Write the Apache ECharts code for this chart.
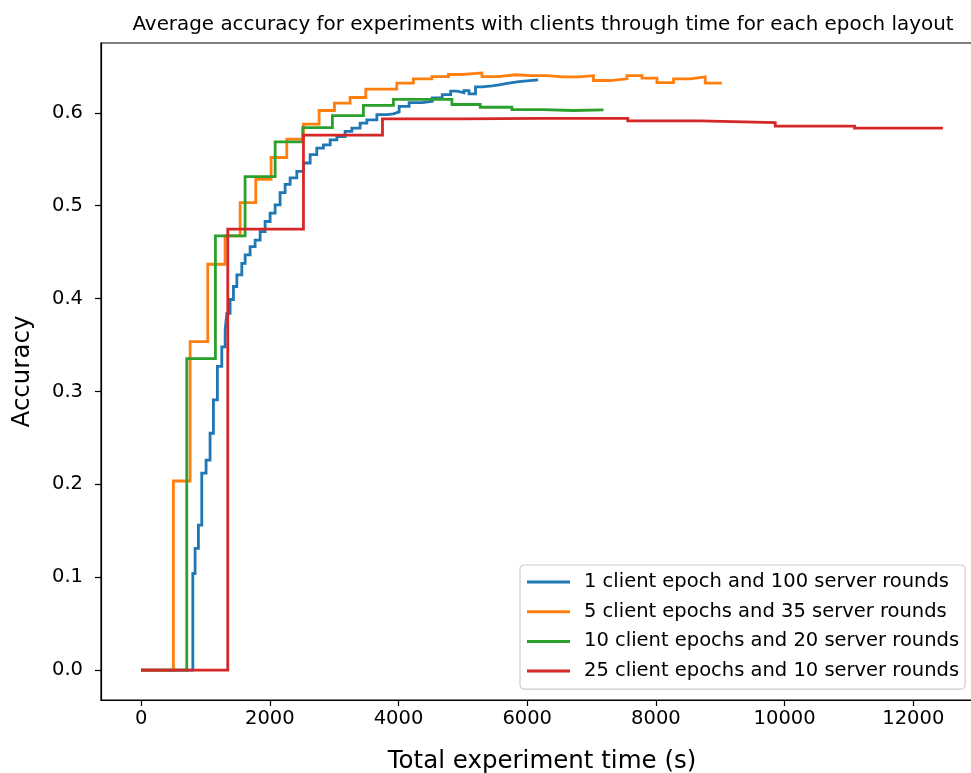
<!DOCTYPE html>
<html>
<head>
<meta charset="utf-8">
<script src="https://cdn.jsdelivr.net/npm/echarts@6/dist/echarts.min.js"></script>
<style>html,body{margin:0;padding:0;background:#fff}#c{width:971px;height:773px}</style>
</head>
<body>
<div id="c"></div>
<script>
const seriesNames = [
  '1 client epoch and 100 server rounds',
  '5 client epochs and 35 server rounds',
  '10 client epochs and 20 server rounds',
  '25 client epochs and 10 server rounds'
];
const xTicks = [0, 2000, 4000, 6000, 8000, 10000, 12000];
const yTicks = [0.0, 0.1, 0.2, 0.3, 0.4, 0.5, 0.6];

const blueT = [0, 804, 839, 891, 943, 1010, 1072, 1124, 1186, 1254, 1306, 1332, 1383, 1435, 1488, 1565, 1617, 1694, 1772, 1850, 1927, 2005, 2083, 2160, 2238, 2316, 2420, 2523, 2627, 2730, 2834, 2938, 3042, 3170, 3275, 3404, 3508, 3664, 3818, 3920, 4010, 4165, 4370, 4525, 4680, 4810, 4913, 5017, 5095, 5197, 5300, 5455, 5560, 5715, 5870, 6170];
const blueV = [0, 0.104, 0.131, 0.156, 0.212, 0.226, 0.255, 0.291, 0.327, 0.348, 0.366, 0.384, 0.399, 0.413, 0.4255, 0.438, 0.447, 0.456, 0.463, 0.472, 0.483, 0.492, 0.501, 0.514, 0.523, 0.530, 0.537, 0.546, 0.555, 0.562, 0.5655, 0.571, 0.5745, 0.580, 0.5835, 0.589, 0.5925, 0.598, 0.599, 0.601, 0.607, 0.611, 0.6125, 0.616, 0.6197, 0.6233, 0.6216, 0.624, 0.6205, 0.628, 0.629, 0.630, 0.632, 0.6337, 0.6355, 0.6355];

const orangeT = [0, 502, 762, 1036, 1305, 1539, 1782, 2020, 2264, 2523, 2766, 3005, 3248, 3492, 3740, 3973, 4232, 4518, 4776, 4990, 5296, 5560, 5813, 6060, 6306, 6550, 6797, 7030, 7290, 7550, 7783, 8016, 8274, 8533, 8767, 9026];
const orangeV = [0, 0.2036, 0.3537, 0.437, 0.4675, 0.5034, 0.5285, 0.5519, 0.5717, 0.5878, 0.6025, 0.6104, 0.6165, 0.6255, 0.6255, 0.632, 0.6366, 0.639, 0.6413, 0.643, 0.639, 0.641, 0.640, 0.640, 0.6387, 0.6387, 0.640, 0.6348, 0.6366, 0.640, 0.6373, 0.6326, 0.6366, 0.6387, 0.632, 0.632];

const greenT = [0, 710, 1155, 1616, 2083, 2512, 2973, 3455, 3921, 4380, 4830, 5270, 5762, 6237, 6719, 7186];
const greenV = [0, 0.3354, 0.4675, 0.5314, 0.5688, 0.584, 0.597, 0.608, 0.6145, 0.6145, 0.609, 0.606, 0.6035, 0.6025, 0.6032, 0.6032];

const redT = [0, 1347, 2523, 3751, 4980, 6200, 7563, 8688, 9854, 11087, 12460];
const redV = [0, 0.4747, 0.576, 0.5935, 0.594, 0.594, 0.5914, 0.5896, 0.5857, 0.5835, 0.5835];

const colors = ['#1f77b4', '#ff7f0e', '#2ca02c', '#d62728'];
const allT = [blueT, orangeT, greenT, redT];
const allV = [blueV, orangeV, greenV, redV];

const FONT = 'DejaVu Sans';
const chart = echarts.init(document.getElementById('c'), null, {renderer: 'canvas'});
chart.setOption({
  animation: false,
  backgroundColor: '#fff',
  textStyle: {fontFamily: FONT, color: '#000'},
  title: {
    text: 'Average accuracy for experiments with clients through time for each epoch layout',
    left: 538, top: 10, textAlign: 'center',
    textStyle: {fontFamily: FONT, fontSize: 19.9, fontWeight: 'normal', color: '#000'}
  },
  grid: {left: 101, top: 43, width: 882, height: 657, outerBoundsMode: 'none', containLabel: false,
    show: true, borderColor: '#000', borderWidth: 1.2, backgroundColor: 'transparent'},
  legend: {
    orient: 'vertical', left: 520, top: 565,
    icon: 'rect', itemWidth: 43, itemHeight: 3, itemGap: 9.7,
    padding: [7, 6, 8, 7],
    borderColor: '#cccccc', borderWidth: 1.2, borderRadius: 4,
    backgroundColor: 'rgba(255,255,255,0.8)',
    textStyle: {fontFamily: FONT, fontSize: 19.5, lineHeight: 20, color: '#000', padding: [0, 0, 0, 9]},
    data: seriesNames
  },
  xAxis: {
    type: 'value', min: -623, max: 13083,
    name: 'Total experiment time (s)', nameLocation: 'middle', nameGap: 49,
    nameTextStyle: {fontFamily: FONT, fontSize: 24.5, color: '#000'},
    axisLine: {show: true, onZero: false, lineStyle: {color: '#000', width: 1.2}},
    axisTick: {show: true, length: 6, customValues: xTicks, lineStyle: {color: '#000', width: 1.2}},
    axisLabel: {customValues: xTicks, fontFamily: FONT, fontSize: 19.5, color: '#000', margin: 9,
      formatter: v => String(Math.round(v))},
    splitLine: {show: false}
  },
  yAxis: {
    type: 'value', min: -0.0322, max: 0.6752,
    name: 'Accuracy', nameLocation: 'middle', nameGap: 66, nameRotate: 90,
    nameTextStyle: {fontFamily: FONT, fontSize: 24.5, color: '#000'},
    axisLine: {show: true, onZero: false, lineStyle: {color: '#000', width: 1.2}},
    axisTick: {show: true, length: 6, customValues: yTicks, lineStyle: {color: '#000', width: 1.2}},
    axisLabel: {customValues: yTicks, fontFamily: FONT, fontSize: 19.5, color: '#000', margin: 18,
      formatter: v => v.toFixed(1)},
    splitLine: {show: false}
  },
  series: seriesNames.map((n, i) => ({
    name: n, type: 'line', step: 'end', showSymbol: false, symbol: 'none',
    color: colors[i],
    lineStyle: {width: 2.8, color: colors[i], join: 'miter'},
    data: allT[i].map((t, k) => [t, allV[i][k]]),
    z: 2 + i
  }))
});
</script>
</body>
</html>
